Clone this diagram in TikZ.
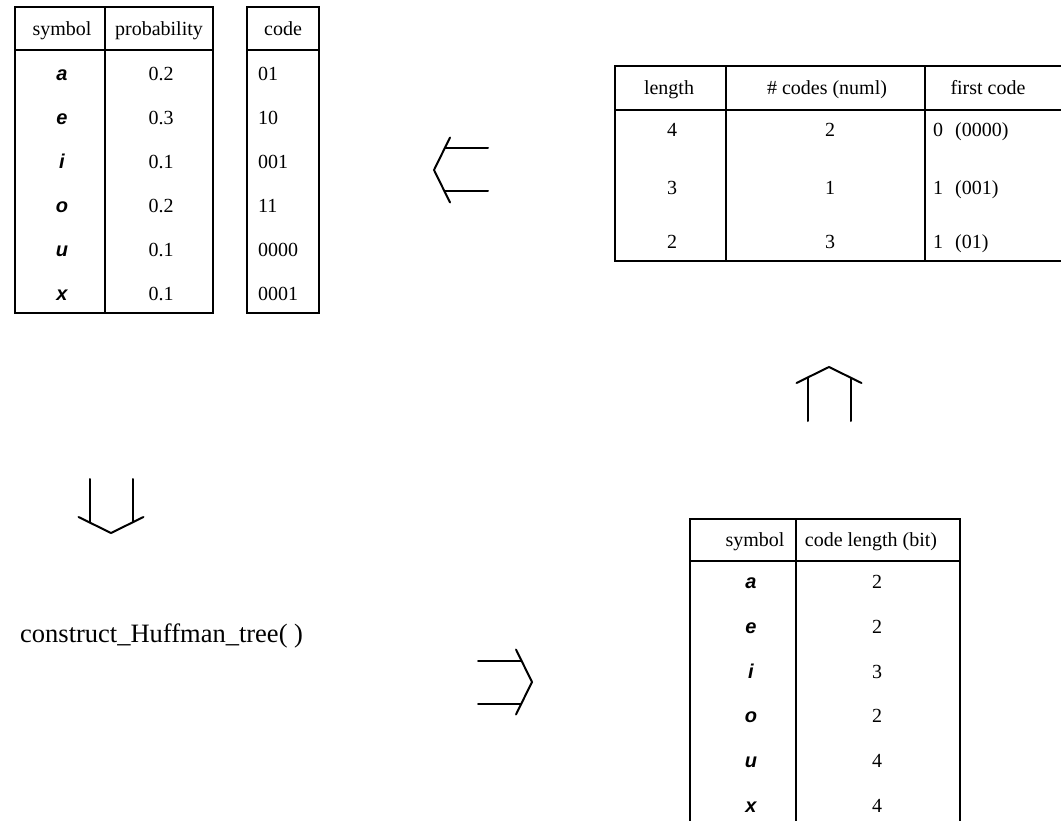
\documentclass[tikz,border=0pt]{standalone}
\usepackage{fontspec}
\setmainfont{Liberation Serif}
\newfontfamily\vowelfont{Liberation Sans}
\begin{document}
\begin{tikzpicture}[x=1pt,y=1pt]
\tikzset{
  rule/.style={line width=1.7pt, line cap=rect},
  cell/.style={inner sep=0pt, font=\fontsize{20}{24}\selectfont, text height=13.5pt, text depth=0pt},
  symcell/.style={cell, font=\fontsize{20}{24}\selectfont\vowelfont\bfseries\itshape},
  bigtext/.style={inner sep=0pt, anchor=west, font=\fontsize{26.5}{32}\selectfont},
  stroke/.style={line width=2pt, line cap=round},
  dblarrow/.pic={
    \coordinate (-apex) at (0,0);
    \draw[stroke] (-54,21.5) -- (-11,21.5);
    \draw[stroke] (-54,-21.5) -- (-11,-21.5);
    \draw[stroke, line join=miter] (-16,32.5) -- (-apex) -- (-16,-32.5);
  }
}
\clip (0,0) rectangle (1061,-821);

% ---- symbol / probability table ----
\draw[rule] (15,-7) rectangle (213,-313);
\draw[rule] (15,-50) -- (213,-50);
\draw[rule] (105,-7) -- (105,-313);
\node[cell] (hsym) at (62,-29) {symbol};
\node[cell] (hprob) at (159,-29) {probability};
\foreach \s/\p [count=\k from 0] in {a/0.2,e/0.3,i/0.1,o/0.2,u/0.1,x/0.1} {
  \node[symcell] (sym\k) at (62,{-74-43.9*\k}) {\s};
  \node[cell] (prob\k) at (161,{-74-43.9*\k}) {\p};
}

% ---- code table ----
\draw[rule] (247,-7) rectangle (319,-313);
\draw[rule] (247,-50) -- (319,-50);
\node[cell] (hcode) at (283,-29) {code};
\foreach \c [count=\k from 0] in {01,10,001,11,0000,0001} {
  \node[cell, anchor=west] (code\k) at (258,{-74-43.9*\k}) {\c};
}

% ---- length / count / first code table ----
\draw[rule] (1070,-66) -- (615,-66) -- (615,-261) -- (1070,-261);
\draw[rule] (615,-110) -- (1070,-110);
\draw[rule] (726,-66) -- (726,-261);
\draw[rule] (925,-66) -- (925,-261);
\node[cell] (hlen) at (669,-88) {length};
\node[cell] (hnum) at (827,-88) {\# codes (numl)};
\node[cell] (hfirst) at (988,-88) {first code};
\foreach \l/\n/\y [count=\k from 0] in {4/2/130, 3/1/188, 2/3/242} {
  \node[cell] (len\k) at (672,-\y) {\l};
  \node[cell] (num\k) at (830,-\y) {\n};
}
\node[cell, anchor=west] (first0) at (933,-130) {0\hspace{0.6em}(0000)};
\node[cell, anchor=west] (first1) at (933,-188) {1\hspace{0.6em}(001)};
\node[cell, anchor=west] (first2) at (933,-242) {1\hspace{0.6em}(01)};

% ---- symbol / code length table ----
\draw[rule] (690,-830) -- (690,-519) -- (960,-519) -- (960,-830);
\draw[rule] (690,-561) -- (960,-561);
\draw[rule] (796,-519) -- (796,-830);
\node[cell] (hsym2) at (755,-540) {symbol};
\node[cell] (hclen) at (871,-540) {code length (bit)};
\foreach \s/\b [count=\k from 0] in {a/2,e/2,i/3,o/2,u/4,x/4} {
  \node[symcell] (lsym\k) at (751,{-582-44.7*\k}) {\s};
  \node[cell] (lbit\k) at (877,{-582-44.7*\k}) {\b};
}

% ---- procedure label ----
\node[bigtext] (proc) at (20,-636) {construct\_Huffman\_tree(\ )};

% ---- double arrows ----
\pic (toLeft)  at (434,-170) [rotate=180] {dblarrow};
\pic (toDown)  at (111,-533) [rotate=-90] {dblarrow};
\pic (toRight) at (532,-682) {dblarrow};
\pic (toUp)    at (829,-367) [rotate=90]  {dblarrow};
\end{tikzpicture}
\end{document}
